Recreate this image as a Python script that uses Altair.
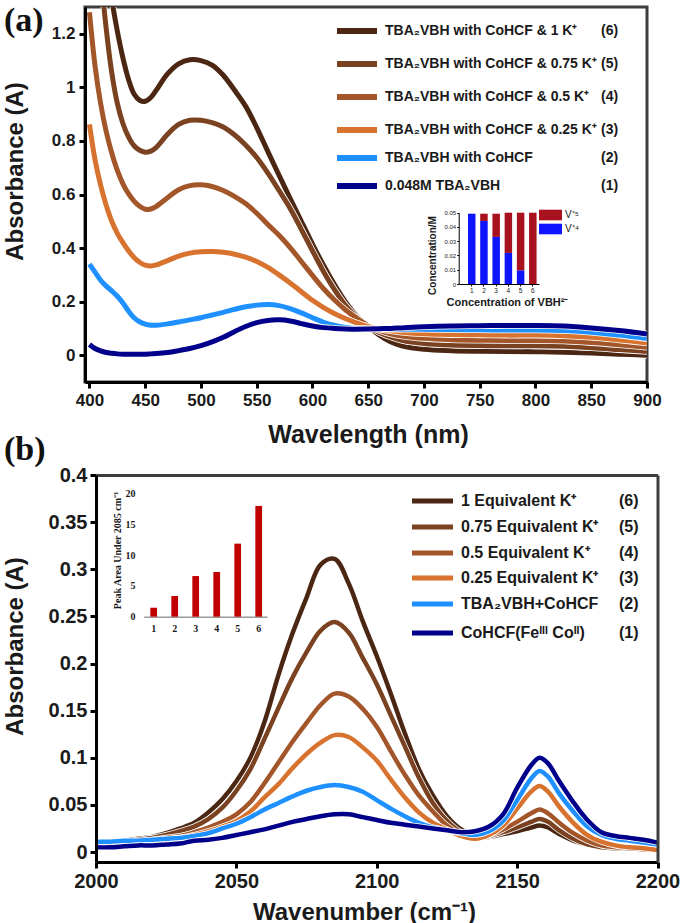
import altair as alt
import pandas as pd

# ---------------- panel (a): UV-Vis spectra ----------------
WAVELENGTH = [400, 405, 410, 415, 420, 425, 430, 435, 440, 445, 450, 455, 460,
              470, 480, 490, 500, 510, 520, 530, 540, 550, 560, 570, 580, 590,
              600, 610, 620, 630, 640, 650, 660, 670, 680, 700, 725, 750, 775,
              800, 825, 850, 875, 900]

UV_TBA = [0.04, 0.025, 0.016, 0.01, 0.007, 0.005, 0.004, 0.004, 0.004, 0.004,
          0.004, 0.005, 0.006, 0.01, 0.017, 0.025, 0.036, 0.05, 0.067, 0.088,
          0.107, 0.122, 0.13, 0.132, 0.128, 0.118, 0.109, 0.103, 0.1, 0.098,
          0.097, 0.098, 0.099, 0.1, 0.102, 0.106, 0.109, 0.11, 0.111, 0.111,
          0.109, 0.102, 0.092, 0.079]
UV_COHCF = [0.34, 0.31, 0.28, 0.258, 0.24, 0.22, 0.195, 0.165, 0.14, 0.125,
            0.116, 0.112, 0.112, 0.117, 0.124, 0.132, 0.14, 0.15, 0.16, 0.171,
            0.181, 0.187, 0.189, 0.185, 0.174, 0.158, 0.14, 0.123, 0.111, 0.104,
            0.1, 0.099, 0.098, 0.097, 0.097, 0.097, 0.096, 0.095, 0.094, 0.094,
            0.092, 0.086, 0.075, 0.062]
UV_K025 = [0.862, 0.73, 0.635, 0.56, 0.5, 0.455, 0.42, 0.39, 0.365, 0.347,
           0.336, 0.333, 0.337, 0.353, 0.37, 0.381, 0.386, 0.387, 0.384, 0.377,
           0.366, 0.35, 0.328, 0.3, 0.27, 0.237, 0.205, 0.178, 0.155, 0.136,
           0.12, 0.107, 0.098, 0.091, 0.086, 0.08, 0.077, 0.076, 0.075, 0.075,
           0.073, 0.067, 0.057, 0.046]
UV_K050 = [1.28, 1.08, 0.94, 0.835, 0.755, 0.69, 0.64, 0.603, 0.575, 0.556,
           0.545, 0.546, 0.556, 0.588, 0.618, 0.633, 0.636, 0.63, 0.615, 0.593,
           0.566, 0.53, 0.488, 0.448, 0.402, 0.35, 0.298, 0.248, 0.205, 0.168,
           0.138, 0.11, 0.093, 0.08, 0.072, 0.063, 0.058, 0.056, 0.055, 0.055,
           0.053, 0.047, 0.039, 0.03]
UV_K075 = [1.95, 1.68, 1.43, 1.22, 1.055, 0.94, 0.865, 0.815, 0.782, 0.765,
           0.758, 0.762, 0.776, 0.825, 0.862, 0.877, 0.877, 0.868, 0.852, 0.823,
           0.785, 0.738, 0.68, 0.615, 0.548, 0.47, 0.39, 0.312, 0.243, 0.184,
           0.14, 0.108, 0.085, 0.068, 0.056, 0.044, 0.038, 0.036, 0.035, 0.035,
           0.033, 0.028, 0.021, 0.014]
UV_K100 = [2.4, 2.05, 1.75, 1.5, 1.33, 1.21, 1.11, 1.03, 0.975, 0.952,
           0.948, 0.962, 0.99, 1.05, 1.088, 1.103, 1.1, 1.083, 1.045, 0.99,
           0.93, 0.85, 0.76, 0.672, 0.585, 0.5, 0.415, 0.335, 0.262, 0.197,
           0.145, 0.108, 0.075, 0.05, 0.035, 0.022, 0.017, 0.015, 0.014, 0.013,
           0.011, 0.008, 0.004, 0.0]

# ---------------- panel (b): IR spectra ----------------
WAVENUMBER = [2000, 2005, 2010, 2015, 2020, 2025, 2030, 2035, 2040, 2045, 2050,
              2055, 2060, 2065, 2070, 2075, 2080, 2085, 2090, 2095, 2100, 2105,
              2110, 2115, 2120, 2125, 2130, 2135, 2140, 2145, 2150, 2155, 2158,
              2161, 2165, 2170, 2175, 2180, 2185, 2190, 2195, 2200]

IR_FECO = [0.005, 0.005, 0.006, 0.007, 0.007, 0.008, 0.009, 0.012, 0.013, 0.015,
           0.018, 0.021, 0.024, 0.028, 0.032, 0.035, 0.038, 0.04, 0.04, 0.037,
           0.034, 0.031, 0.029, 0.027, 0.025, 0.023, 0.021, 0.022, 0.027, 0.04,
           0.068, 0.092, 0.1, 0.094, 0.075, 0.053, 0.034, 0.021, 0.017, 0.015,
           0.013, 0.01]
IR_COHCF = [0.011, 0.011, 0.012, 0.012, 0.013, 0.014, 0.015, 0.017, 0.02, 0.025,
            0.03, 0.037, 0.045, 0.052, 0.059, 0.065, 0.069, 0.071, 0.069, 0.064,
            0.055, 0.046, 0.038, 0.031, 0.026, 0.023, 0.02, 0.018, 0.022, 0.033,
            0.055, 0.078, 0.086, 0.08, 0.062, 0.043, 0.027, 0.018, 0.014, 0.012,
            0.01, 0.008]
IR_K025 = [0.007, 0.008, 0.009, 0.01, 0.011, 0.013, 0.015, 0.018, 0.022, 0.027,
           0.033, 0.043, 0.058, 0.072, 0.089, 0.104, 0.116, 0.124, 0.122, 0.111,
           0.097, 0.077, 0.058, 0.042, 0.031, 0.024, 0.017, 0.014, 0.018, 0.028,
           0.046, 0.064, 0.07, 0.064, 0.048, 0.031, 0.018, 0.011, 0.007, 0.005,
           0.004, 0.002]
IR_K050 = [0.007, 0.008, 0.01, 0.011, 0.013, 0.015, 0.017, 0.021, 0.026, 0.032,
           0.04, 0.053, 0.073, 0.095, 0.117, 0.137, 0.156, 0.168, 0.165, 0.152,
           0.133, 0.107, 0.082, 0.06, 0.043, 0.028, 0.019, 0.015, 0.018, 0.024,
           0.032, 0.041, 0.045, 0.041, 0.031, 0.02, 0.012, 0.007, 0.005, 0.004,
           0.003, 0.002]
IR_K075 = [0.008, 0.009, 0.011, 0.013, 0.015, 0.018, 0.022, 0.027, 0.035, 0.047,
           0.065, 0.088, 0.12, 0.153, 0.185, 0.212, 0.235, 0.244, 0.233, 0.206,
           0.178, 0.145, 0.112, 0.079, 0.052, 0.033, 0.021, 0.016, 0.017, 0.021,
           0.026, 0.032, 0.035, 0.032, 0.023, 0.014, 0.008, 0.005, 0.004, 0.004,
           0.003, 0.002]
IR_K100 = [0.008, 0.01, 0.012, 0.014, 0.016, 0.02, 0.025, 0.031, 0.042, 0.056,
           0.075, 0.1, 0.138, 0.188, 0.232, 0.27, 0.305, 0.311, 0.285, 0.245,
           0.208, 0.168, 0.126, 0.088, 0.06, 0.038, 0.024, 0.017, 0.016, 0.019,
           0.022, 0.026, 0.028, 0.026, 0.019, 0.012, 0.008, 0.006, 0.005, 0.005,
           0.004, 0.003]

# series (1)..(6)
UV_LABELS = ["0.048M TBA₂VBH", "TBA₂VBH with CoHCF",
             "TBA₂VBH with CoHCF & 0.25 K⁺", "TBA₂VBH with CoHCF & 0.5 K⁺",
             "TBA₂VBH with CoHCF & 0.75 K⁺", "TBA₂VBH with CoHCF & 1 K⁺"]
IR_LABELS = ["CoHCF(Feᴵᴵᴵ Coᴵᴵ)", "TBA₂VBH+CoHCF", "0.25 Equivalent K⁺",
             "0.5 Equivalent K⁺", "0.75 Equivalent K⁺", "1 Equivalent K⁺"]
SERIES_TAGS = ["(1)", "(2)", "(3)", "(4)", "(5)", "(6)"]
SERIES_COLORS = ["#00008b", "#1e90ff", "#d8732f", "#a3562a", "#7a4220", "#4b2713"]

# inset (a): vanadium oxidation states
SAMPLE_NO = [1, 2, 3, 4, 5, 6]
V4_CONC = [0.0493, 0.0442, 0.033, 0.0218, 0.0096, 0.0]
V5_CONC = [0.0, 0.0051, 0.0163, 0.0282, 0.0404, 0.05]
# inset (b): integrated 2085 cm-1 band
PEAK_AREA = [1.46, 3.36, 6.6, 7.26, 11.86, 17.98]

SANS = "Liberation Sans, Arial, Helvetica, sans-serif"
SERIF = "Liberation Serif, Times New Roman, serif"
INK = "#1a1a1a"
FRAME = "#3d3d3d"
V5_RED = "#a8121f"
V4_BLUE = "#0f14ff"

# panel (b) plot area starts this many pixels right of the shared left edge
B_SHIFT = 11


def spectra(xs, series, xdomain, xrange, ydomain, x_axis, y_axis, width):
    rows = [{"x": x, "y": y, "k": i}
            for i, ys in enumerate(series) for x, y in zip(xs, ys)]
    xscale = alt.Scale(domain=xdomain, nice=False, zero=False)
    if xrange is not None:
        xscale = alt.Scale(domain=xdomain, range=xrange, nice=False, zero=False)
    base = alt.Chart(pd.DataFrame(rows)).encode(
        x=alt.X("x:Q", scale=xscale, axis=x_axis),
        y=alt.Y("y:Q", scale=alt.Scale(domain=ydomain, nice=False, zero=False),
                axis=y_axis),
    )
    layers = []
    for i in reversed(range(len(series))):
        sub = base.transform_filter(alt.datum.k == i)
        layers.append(sub.mark_line(color="white", strokeWidth=width + 1.6,
                                    interpolate="catmull-rom", clip=True))
        layers.append(sub.mark_line(color=SERIES_COLORS[i], strokeWidth=width,
                                    interpolate="catmull-rom", clip=True))
    return alt.layer(*layers)


def key(labels, rows_y, line_x, text_x, tag_x, size, line_w):
    # rows_y lists rows from the top, i.e. series (6) first
    df = pd.DataFrame({"label": labels, "tag": SERIES_TAGS,
                       "color": SERIES_COLORS,
                       "ypx": list(reversed(rows_y))})
    base = alt.Chart(df).encode(y=alt.Y("ypx:Q", scale=None, axis=None))
    swatch = base.mark_rule(strokeWidth=line_w).encode(
        x=alt.value(line_x[0]), x2=alt.value(line_x[1]),
        color=alt.Color("color:N", scale=None, legend=None))
    text = base.mark_text(align="left", baseline="middle", font=SANS,
                          fontWeight="bold", fontSize=size, color=INK).encode(
        x=alt.value(text_x), text="label:N")
    tag = base.mark_text(align="left", baseline="middle", font=SANS,
                         fontWeight="bold", fontSize=size, color=INK).encode(
        x=alt.value(tag_x), text="tag:N")
    return [swatch, text, tag]


def panel_tag(text, x, y):
    return alt.Chart(pd.DataFrame({"t": [text]})).mark_text(
        font=SERIF, fontWeight="bold", fontSize=34, align="left",
        baseline="middle", color="#111111").encode(
        text="t:N", x=alt.value(x), y=alt.value(y))


# ---------------- panel (a) ----------------
ax_a = alt.Axis(values=list(range(400, 901, 50)), title="Wavelength (nm)",
                labelFontSize=17, titleFontSize=25, titleX=283, titleY=52,
                titleBaseline="middle", labelPadding=4, zindex=1)
ay_a = alt.Axis(values=[0, 0.2, 0.4, 0.6, 0.8, 1.0, 1.2], format="~g",
                title="Absorbance (A)", labelFontSize=17, titleFontSize=24,
                titleX=-70, titleY=164, titleBaseline="middle",
                labelPadding=4, zindex=1)
uv = spectra(WAVELENGTH, [UV_TBA, UV_COHCF, UV_K025, UV_K050, UV_K075, UV_K100],
             [396, 900], None, [-0.1, 1.3], ax_a, ay_a, 5)
uv_key = key(UV_LABELS, [24, 57, 90, 123, 151, 179], (252, 292), 300, 516, 14, 6)

ox_rows = []
for s, v4, v5 in zip(SAMPLE_NO, V4_CONC, V5_CONC):
    ox_rows.append({"sample": s, "state": "V⁺⁴", "conc": v4, "ord": 0})
    ox_rows.append({"sample": s, "state": "V⁺⁵", "conc": v5, "ord": 1})
ox_bars = alt.Chart(pd.DataFrame(ox_rows)).mark_bar().encode(
    x=alt.X("sample:O",
            scale=alt.Scale(range=[373.7, 453.9], paddingInner=0.386,
                            paddingOuter=0.4745, align=0.8),
            axis=alt.Axis(orient="bottom", offset=-98, labelAngle=0,
                          title="Concentration of VBH²⁻", titleFontSize=11,
                          titleX=422, titleY=18, titleBaseline="middle",
                          labelFontSize=6.5, labelFontWeight="normal",
                          labelPadding=1, domainWidth=1, tickWidth=1,
                          tickSize=2)),
    y=alt.Y("conc:Q", stack="zero",
            scale=alt.Scale(domain=[0, 0.05], range=[277, 205.7], nice=False),
            axis=alt.Axis(orient="left", offset=-373.7,
                          values=[0, 0.01, 0.02, 0.03, 0.04, 0.05], format="~g",
                          title="Concentration/M", titleFontSize=10,
                          titleX=-26.7, titleY=248, titleBaseline="middle",
                          labelFontSize=6, labelFontWeight="normal",
                          labelPadding=1, domainWidth=1, tickWidth=1,
                          tickSize=2)),
    color=alt.Color("state:N",
                    scale=alt.Scale(domain=["V⁺⁵", "V⁺⁴"],
                                    range=[V5_RED, V4_BLUE]),
                    legend=None),
    order=alt.Order("ord:Q"),
)
ox_key_centres = [208, 222]
ox_key_df = pd.DataFrame({
    "state": ["V⁺⁵", "V⁺⁴"], "color": [V5_RED, V4_BLUE],
    "y0": [c - 5.3 for c in ox_key_centres],
    "y1": [c + 5.3 for c in ox_key_centres],
    "yc": ox_key_centres})
ox_key_box = alt.Chart(ox_key_df).mark_rect().encode(
    x=alt.value(454), x2=alt.value(477),
    y=alt.Y("y0:Q", scale=None, axis=None), y2="y1:Q",
    color=alt.Color("color:N", scale=None, legend=None))
ox_key_txt = alt.Chart(ox_key_df).mark_text(
    align="left", baseline="middle", font=SANS, fontSize=10,
    color=INK).encode(
    x=alt.value(480), y=alt.Y("yc:Q", scale=None, axis=None), text="state:N")

panel_a = alt.layer(
    uv, *uv_key, ox_bars, ox_key_box, ox_key_txt,
    panel_tag("(a)", -81, 13.5), panel_tag("(b)", -81, 443),
).resolve_scale(x="independent", y="independent", color="independent"
).properties(width=562, height=375)

# ---------------- panel (b) ----------------
B_WIDTH = 572.5
B_XRANGE = [B_SHIFT, B_WIDTH]
IR_YDOMAIN = [-0.0106, 0.4]
ax_b = alt.Axis(values=[2000, 2050, 2100, 2150, 2200], format="d",
                title="Wavenumber (cm⁻¹)", labelFontSize=20, titleFontSize=24,
                titleX=268 + B_SHIFT, titleY=50, titleBaseline="middle",
                labelPadding=3, zindex=1)
ay_b = alt.Axis(values=[0, 0.05, 0.1, 0.15, 0.2, 0.25, 0.3, 0.35, 0.4],
                format="~g", title="Absorbance (A)", labelFontSize=20,
                titleFontSize=24, titleX=-81, titleY=171,
                titleBaseline="middle", labelPadding=3, offset=-B_SHIFT,
                zindex=1)
ir = spectra(WAVENUMBER, [IR_FECO, IR_COHCF, IR_K025, IR_K050, IR_K075, IR_K100],
             [2000, 2200], B_XRANGE, IR_YDOMAIN, ax_b, ay_b, 4.5)
ir_key = key(IR_LABELS, [26, 52, 78, 103, 129, 158],
             (316 + B_SHIFT, 357 + B_SHIFT), 365 + B_SHIFT, 523 + B_SHIFT, 16, 5)

# top and right edges of the frame
ir_frame = alt.Chart(pd.DataFrame({"x": [2000], "y": [0.0]})).mark_point(
    opacity=0).encode(
    x=alt.X("x:Q", scale=alt.Scale(domain=[2000, 2200], range=B_XRANGE,
                                   nice=False, zero=False),
            axis=alt.Axis(orient="top", labels=False, ticks=False, title=None,
                          domainColor=FRAME, domainWidth=3, zindex=1)),
    y=alt.Y("y:Q", scale=alt.Scale(domain=IR_YDOMAIN, nice=False, zero=False),
            axis=alt.Axis(orient="right", labels=False, ticks=False, title=None,
                          domainColor=FRAME, domainWidth=3, zindex=1)),
)

area_bars = alt.Chart(pd.DataFrame({"sample": SAMPLE_NO, "area": PEAK_AREA})
                      ).mark_bar(color="#c00000").encode(
    x=alt.X("sample:O",
            scale=alt.Scale(range=[47.7 + B_SHIFT, 171.0 + B_SHIFT],
                            paddingInner=0.68, paddingOuter=0.2757,
                            align=0.574),
            axis=alt.Axis(orient="bottom", offset=-245.3, labelAngle=0,
                          title=None, labelFont=SERIF, labelFontSize=10,
                          labelPadding=7, domainWidth=1.5,
                          domainColor="#9a9a9a", ticks=False)),
    y=alt.Y("area:Q",
            scale=alt.Scale(domain=[0, 20], range=[141.7, 18.5], nice=False),
            axis=alt.Axis(orient="left", offset=-(42 + B_SHIFT),
                          values=[0, 5, 10, 15, 20],
                          title="Peak Area Under 2085 cm⁻¹", titleFont=SERIF,
                          titleFontSize=10, titleX=-21, titleY=75,
                          titleBaseline="middle", labelFont=SERIF,
                          labelFontSize=10, labelPadding=3, domain=False,
                          ticks=False)),
)

panel_b = alt.layer(ir, *ir_key, ir_frame, area_bars).resolve_scale(
    x="independent", y="independent", color="independent"
).properties(width=B_WIDTH, height=387,
             view=alt.ViewBackground(stroke="transparent"))

chart = alt.vconcat(panel_a, panel_b, spacing=-6).properties(
    padding={"left": 1, "top": 2, "right": 4, "bottom": 0},
    background="white",
).configure_view(
    stroke=FRAME, strokeWidth=3
).configure_axis(
    grid=False, labelFont=SANS, labelFontWeight="bold", labelColor=INK,
    titleFont=SANS, titleFontWeight="bold", titleColor=INK,
    domainColor="black", domainWidth=3, tickColor="black", tickWidth=3,
    tickSize=6, labelFlush=False, labelOverlap=False,
)

chart.save("out.html", embed_options={"renderer": "svg", "actions": False})
